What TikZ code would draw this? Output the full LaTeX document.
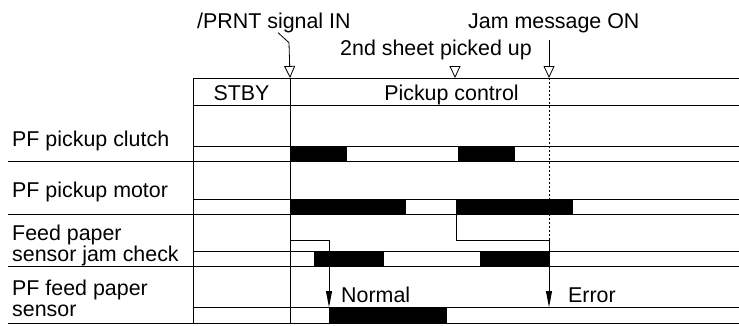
\documentclass[tikz,border=0pt]{standalone}
\usepackage{fontspec}
\setmainfont{Liberation Sans}
\usetikzlibrary{arrows.meta, positioning}

\begin{document}
\begin{tikzpicture}[x=1pt, y=-1pt,
        lbl/.style={font=\fontsize{21.4}{21}\selectfont, inner sep=0pt, anchor=base west, align=left},
        grid/.style={line width=0.8pt},
        pulse/.style={rectangle, fill=black, draw=black, line width=0.5pt, inner sep=0pt, outer sep=0pt, minimum height=15pt, anchor=north west},
        lead/.style={line width=0.8pt, -{Triangle[open, length=12pt, width=11pt]}},
        arr/.style={line width=0.8pt, -{Triangle[length=16pt, width=6pt]}},
        dotline/.style={line width=0.8pt, dash pattern=on 2pt off 2pt}
    ]
        \useasboundingbox (0,0) rectangle (739,325);

        % Cadre
        \draw[grid] (193,78) -- (739,78);
        \draw[grid] (193,105) -- (739,105);
        \foreach \yt/\yb in {146/161, 199/214, 251/266, 307/323} {
            \draw[grid] (193,\yt) -- (739,\yt);
            \draw[grid] (8,\yb) -- (739,\yb);
        }
        \draw[grid] (193,78) -- (193,323);
        \draw[grid] (290,78) -- (290,323);

        % En-tete
        \node[lbl, anchor=base] (stby) at (241.5,100) {STBY};
        \node[lbl, anchor=base] (pick) at (451.5,100) {Pickup control};

        % Signaux (base = derniere ligne)
        \node[lbl] (clutch) at (12,146) {PF pickup clutch};
        \node[lbl] (motor) at (12,197) {PF pickup motor};
        \node[lbl] (jamchk) at (12,261) {Feed paper\\sensor jam check};
        \node[lbl] (feed) at (12,316) {PF feed paper\\sensor};

        % Impulsions
        \node[pulse, minimum width=56pt] (c1) at (290,146) {};
        \node[pulse, minimum width=56pt] (c2) at (458,146) {};
        \node[pulse, minimum width=115pt] (m1) at (290,199) {};
        \node[pulse, minimum width=116pt] (m2) at (456,199) {};
        \node[pulse, minimum width=69pt] (j1) at (314,251) {};
        \node[pulse, minimum width=69pt] (j2) at (480,251) {};
        \node[pulse, minimum width=117pt, minimum height=16pt] (n1) at (329,307) {};

        % Reperes
        \coordinate (prntIN) at (290,78);
        \coordinate (secondIN) at (455,78);
        \coordinate (jamIN) at (549,78);
        \coordinate (err) at (549,307);
        \node[lbl] (prnt) at (197,28) {/PRNT signal IN};
        \node[lbl] (second) at (340,55) {2nd sheet picked up};
        \node[lbl] (jam) at (468,28) {Jam message ON};
        \draw[lead] ([xshift=81pt]prnt.south west) -- ++(11,10) -- (prntIN);
        \draw[lead] ([yshift=12pt]secondIN) -- (secondIN);
        \draw[lead] ([yshift=38pt]jamIN) -- (jamIN);
        \draw[dotline] (jamIN) -- (jamIN |- 0,240);

        % Liens
        \draw[arr] (m1.south west) -- ++(0,26) -| (n1.north west);
        \draw[arr] (m2.south west) -- ++(0,26) -| (err);
        \node[lbl] (normal) at (341,302) {Normal};
        \node[lbl] (error) at (568,302) {Error};
    \end{tikzpicture}
\end{document}
